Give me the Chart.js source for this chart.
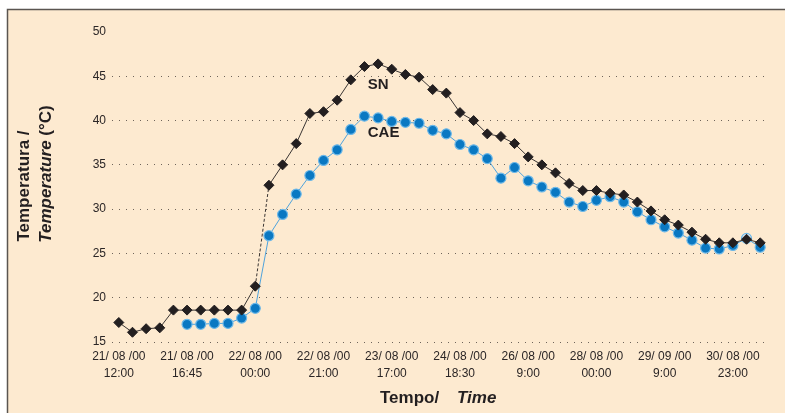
<!DOCTYPE html>
<html>
<head>
<meta charset="utf-8">
<script src="https://cdn.jsdelivr.net/npm/chart.js@4.4.1/dist/chart.umd.min.js"></script>
<style>
  html, body { margin: 0; padding: 0; background: #fff; }
  #wrap { width: 785px; height: 413px; }
</style>
</head>
<body>
<div id="wrap"><canvas id="chart" width="785" height="413"></canvas></div>
<script>
// Tick labels shown every 5th reading
const tickLabels = [
  ['21/ 08 /00', '12:00'],
  ['21/ 08 /00', '16:45'],
  ['22/ 08 /00', '00:00'],
  ['22/ 08 /00', '21:00'],
  ['23/ 08 /00', '17:00'],
  ['24/ 08 /00', '18:30'],
  ['26/ 08 /00', '9:00'],
  ['28/ 08 /00', '00:00'],
  ['29/ 09 /00', '9:00'],
  ['30/ 08 /00', '23:00'],
];

const snValues = [
  17.2, 16.1, 16.5, 16.6, 18.6, 18.6, 18.6, 18.6, 18.6, 18.6,
  21.3, 32.7, 35.0, 37.4, 40.8, 41.0, 42.3, 44.6, 46.1, 46.4,
  45.8, 45.2, 44.9, 43.5, 43.1, 40.9, 40.0, 38.5, 38.2, 37.4,
  35.9, 35.0, 34.1, 32.9, 32.1, 32.1, 31.8, 31.6, 30.8, 29.8,
  28.8, 28.2, 27.4, 26.6, 26.2, 26.2, 26.6, 26.2
];

const caeValues = [
  null, null, null, null, null, 17.0, 17.0, 17.1, 17.1, 17.7,
  18.8, 27.0, 29.4, 31.7, 33.8, 35.5, 36.7, 39.0, 40.5, 40.3,
  39.9, 39.8, 39.7, 38.9, 38.5, 37.3, 36.7, 35.7, 33.5, 34.7,
  33.2, 32.5, 31.9, 30.8, 30.3, 31.0, 31.4, 30.8, 29.7, 28.8,
  28.0, 27.3, 26.5, 25.6, 25.5, 25.9, 26.7, 25.7
];

const yMin = 15, yMax = 50, yStep = 5;

// one category per reading, labelled every 5th
const categories = snValues.map((_, i) => i % 5 === 0 ? tickLabels[i / 5] : '');

const FONT = '"Liberation Sans", Arial, sans-serif';

const panelPlugin = {
  id: 'panel',
  beforeDraw(chart) {
    const c = chart.ctx;
    c.save();
    c.fillStyle = '#fff';
    c.fillRect(0, 0, chart.width, chart.height);
    c.fillStyle = '#fdead0';
    c.fillRect(7, 9, chart.width - 7, chart.height - 9);
    c.strokeStyle = '#5a5550';
    c.lineWidth = 1.5;
    c.beginPath();
    c.moveTo(7.5, chart.height);
    c.lineTo(7.5, 9.5);
    c.lineTo(chart.width, 9.5);
    c.stroke();
    c.restore();
  }
};

const textPlugin = {
  id: 'texts',
  afterDraw(chart) {
    const c = chart.ctx;
    const xs = chart.scales.x, ys = chart.scales.y;
    c.save();
    c.fillStyle = '#231f20';
    c.textBaseline = 'middle';

    // series labels
    c.font = 'bold 15px ' + FONT;
    c.textAlign = 'center';
    c.fillText('SN', xs.getPixelForValue(19), ys.getPixelForValue(44));
    c.fillText('CAE', xs.getPixelForValue(19.4), ys.getPixelForValue(38.6));

    // x title
    c.font = 'bold 17px ' + FONT;
    c.textAlign = 'left';
    c.fillText('Tempo/', 380, 398);
    c.font = 'italic bold 17px ' + FONT;
    c.fillText('Time', 457, 398);

    // y title (rotated)
    c.translate(0, 0);
    c.save();
    c.translate(24, 186);
    c.rotate(-Math.PI / 2);
    c.font = 'bold 17px ' + FONT;
    c.textAlign = 'center';
    c.fillText('Temperatura /', 0, 0);
    c.restore();

    c.save();
    c.translate(46, 174);
    c.rotate(-Math.PI / 2);
    c.font = 'italic bold 17px ' + FONT;
    const w1 = c.measureText('Temperature').width;
    c.font = 'bold 17px ' + FONT;
    const w2 = c.measureText(' (°C)').width;
    const start = -(w1 + w2) / 2;
    c.textAlign = 'left';
    c.font = 'italic bold 17px ' + FONT;
    c.fillText('Temperature', start, 0);
    c.font = 'bold 17px ' + FONT;
    c.fillText(' (°C)', start + w1, 0);
    c.restore();

    c.restore();
  }
};

new Chart(document.getElementById('chart').getContext('2d'), {
  type: 'line',
  data: {
    labels: categories,
    datasets: [
      {
        label: 'SN', data: snValues,
        borderColor: '#3a3533', borderWidth: 1,
        pointStyle: 'rectRot', pointRadius: 5,
        pointBackgroundColor: '#231f20', pointBorderColor: '#231f20', pointBorderWidth: 1,
        segment: { borderDash: ctx => ctx.p0DataIndex === 10 ? [3, 2] : undefined },
        tension: 0,
      },
      {
        label: 'CAE', data: caeValues,
        borderColor: '#4fa3dc', borderWidth: 1,
        pointStyle: 'circle', pointRadius: 5,
        pointBackgroundColor: ctx => ctx.dataIndex === 46 ? '#eaf3fa' : '#0a78c2',
        pointBorderColor: '#6db8e8', pointBorderWidth: 1.2,
        tension: 0, spanGaps: false,
      },
    ],
  },
  options: {
    responsive: false,
    animation: false,
    layout: { padding: { left: 0, right: 18, top: 32, bottom: 0 } },
    plugins: { legend: { display: false }, tooltip: { enabled: false } },
    scales: {
      x: {
        type: 'category',
        offset: true,
        grid: { display: false, drawTicks: false },
        border: { display: false },
        ticks: {
          autoSkip: false, maxRotation: 0, minRotation: 0, padding: 7,
          color: '#2b2626', font: { family: FONT, size: 12, lineHeight: 1.35 },
        },
        afterFit: s => { s.height = 71; },
      },
      y: {
        min: yMin, max: yMax,
        grid: {
          drawTicks: false, lineWidth: 1,
          color: ctx => ctx.tick && ctx.tick.value === yMax ? 'rgba(0,0,0,0)' : '#6e645a',
        },
        border: { display: false, dash: [1, 6] },
        ticks: {
          stepSize: yStep, padding: 6,
          color: '#2b2626', font: { family: FONT, size: 12 },
        },
        afterFit: s => { s.width = 112; },
      },
    },
  },
  plugins: [panelPlugin, textPlugin],
});
</script>
</body>
</html>
